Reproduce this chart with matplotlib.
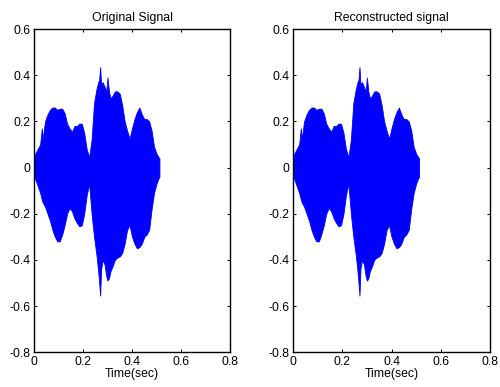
import matplotlib
matplotlib.use('Agg')
import matplotlib.pyplot as plt

plt.rcParams['font.family'] = ['Liberation Sans', 'DejaVu Sans']
plt.rcParams['font.size'] = 8.8

# envelope of the signal, time in seconds
t = [0.000, 0.005, 0.015, 0.025, 0.032, 0.035, 0.045, 0.055, 0.065, 0.075,
     0.085, 0.095, 0.105, 0.115, 0.125, 0.135, 0.145, 0.155, 0.165, 0.175,
     0.185, 0.195, 0.205, 0.215, 0.225, 0.235, 0.245, 0.255, 0.262, 0.266,
     0.270, 0.274, 0.280, 0.288, 0.295, 0.300, 0.306, 0.312, 0.320, 0.330,
     0.340, 0.350, 0.360, 0.370, 0.380, 0.390, 0.400, 0.410, 0.420, 0.430,
     0.440, 0.450, 0.460, 0.470, 0.480, 0.490, 0.500, 0.507, 0.512]

upper = [0.03, 0.06, 0.08, 0.10, 0.17, 0.12, 0.20, 0.23, 0.25, 0.26,
         0.26, 0.25, 0.255, 0.255, 0.235, 0.19, 0.17, 0.155, 0.18, 0.18,
         0.19, 0.19, 0.15, 0.08, 0.045, 0.12, 0.28, 0.34, 0.37, 0.38,
         0.435, 0.36, 0.37, 0.35, 0.33, 0.39, 0.33, 0.30, 0.31, 0.33,
         0.33, 0.32, 0.27, 0.20, 0.16, 0.125, 0.17, 0.21, 0.24, 0.26,
         0.23, 0.21, 0.21, 0.20, 0.16, 0.09, 0.06, 0.047, 0.04]

lower = [-0.03, -0.05, -0.08, -0.11, -0.14, -0.15, -0.17, -0.20, -0.23, -0.27,
         -0.30, -0.32, -0.32, -0.29, -0.25, -0.20, -0.175, -0.19, -0.22, -0.24,
         -0.255, -0.25, -0.20, -0.12, -0.07, -0.20, -0.30, -0.38, -0.45, -0.50,
         -0.555, -0.44, -0.40, -0.42, -0.47, -0.49, -0.48, -0.45, -0.43, -0.40,
         -0.39, -0.385, -0.37, -0.33, -0.27, -0.25, -0.30, -0.33, -0.35, -0.345,
         -0.33, -0.30, -0.29, -0.27, -0.18, -0.11, -0.07, -0.05, -0.04]

titles = ['Original Signal', 'Reconstructed signal']
xticks = [0, 0.2, 0.4, 0.6, 0.8]
xlabels = ['0', '0.2', '0.4', '0.6', '0.8']
yticks = [-0.8, -0.6, -0.4, -0.2, 0, 0.2, 0.4, 0.6]
ylabels = ['-0.8', '-0.6', '-0.4', '-0.2', '0', '0.2', '0.4', '0.6']

fig = plt.figure(figsize=(5, 3.87), dpi=100)
positions = [[0.068, 0.090, 0.392, 0.835], [0.586, 0.090, 0.394, 0.835]]

for pos, title in zip(positions, titles):
    ax = fig.add_axes(pos)
    ax.fill_between(t, lower, upper, color='blue', linewidth=0.6)
    ax.set_xlim(0, 0.8)
    ax.set_ylim(-0.8, 0.6)
    ax.set_xticks(xticks)
    ax.set_xticklabels(xlabels)
    ax.set_yticks(yticks)
    ax.set_yticklabels(ylabels)
    ax.tick_params(direction='in', length=2.5, width=0.7, top=True, right=True, pad=2.5)
    for s in ax.spines.values():
        s.set_linewidth(1.0)
    ax.set_title(title, fontsize=8.8, pad=6)
    ax.set_xlabel('Time(sec)', labelpad=0)

fig.savefig('out.png', dpi=100)
